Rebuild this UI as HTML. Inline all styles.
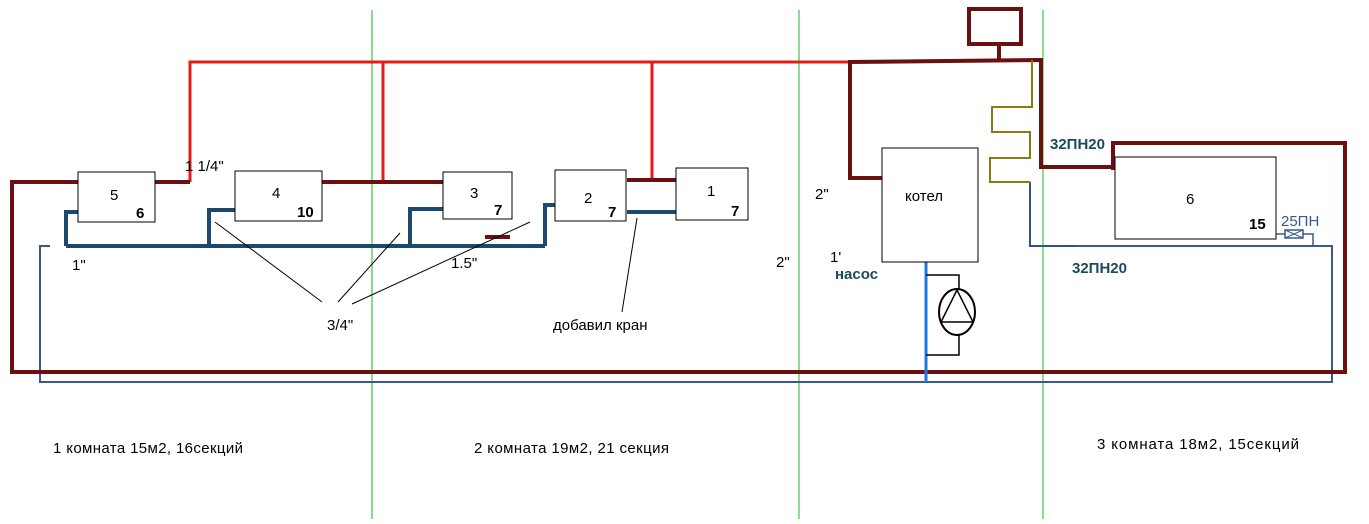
<!DOCTYPE html>
<html><head><meta charset="utf-8"><style>
body{margin:0;background:#fff}
svg text{font-family:"Liberation Sans",sans-serif}
</style></head><body>
<svg width="1369" height="519" xmlns="http://www.w3.org/2000/svg">
<rect width="1369" height="519" fill="#fff"/>
<g stroke="#3ec83e" stroke-width="1.2">
<line x1="372" y1="10" x2="372" y2="519"/>
<line x1="799" y1="10" x2="799" y2="519"/>
<line x1="1043" y1="10" x2="1043" y2="519"/>
</g>
<polyline points="50,246 40,246 40,382 1332,382 1332,246 1060,246" fill="none" stroke="#3b5a8a" stroke-width="2"/>
<polyline points="1030,182 1030,246 1075,246" fill="none" stroke="#2f4f8f" stroke-width="2"/>
<g stroke="#e51b1b" stroke-width="3" fill="none">
<polyline points="190,182 190,62 850,62"/>
<line x1="383" y1="62" x2="383" y2="182"/>
<line x1="652" y1="62" x2="652" y2="180"/>
</g>
<g stroke="#6b1010" stroke-width="4" fill="none">
<polyline points="78,182 12,182 12,372 1345,372 1345,143 1113,143 1113,170"/>
<line x1="155" y1="182" x2="190" y2="182"/>
<line x1="322" y1="182" x2="443" y2="182"/>
<line x1="627" y1="180" x2="676" y2="180"/>
<polyline points="882,178 850,178 850,62 1041,60 1041,167 1115,167"/>
<line x1="999" y1="45" x2="999" y2="60"/>
<rect x="969" y="9" width="52" height="35"/>
<line x1="485" y1="237" x2="510" y2="237"/>
</g>
<polyline points="1032,60 1032,107 992,107 992,132 1030,132 1030,158 990,158 990,182 1030,182" fill="none" stroke="#8a7a10" stroke-width="2"/>
<g stroke="#1b4a6e" stroke-width="4" fill="none">
<polyline points="66,246 545,246"/>
<polyline points="78,212 66,212 66,246"/>
<polyline points="235,210 209,210 209,246"/>
<polyline points="443,209 410,209 410,246"/>
<polyline points="555,205 545,205 545,246"/>
<line x1="627" y1="212" x2="676" y2="212"/>
</g>
<line x1="926" y1="262" x2="926" y2="382" stroke="#1e78e0" stroke-width="3"/>
<polyline points="926,275 959,275 959,290" fill="none" stroke="#000" stroke-width="1.5"/>
<polyline points="926,355 959,355 959,334" fill="none" stroke="#000" stroke-width="1.5"/>
<ellipse cx="957" cy="312" rx="18" ry="23" fill="#fff" stroke="#000" stroke-width="2"/>
<polygon points="957,290 941,322 973,322" fill="none" stroke="#000" stroke-width="1.5"/>
<rect x="1285" y="230" width="18" height="8" fill="#fff" stroke="#3b5a8a" stroke-width="1.5"/>
<line x1="1285" y1="230" x2="1303" y2="238" stroke="#3b5a8a"/><line x1="1285" y1="238" x2="1303" y2="230" stroke="#3b5a8a"/>
<polyline points="1276,234 1285,234" stroke="#3b5a8a" stroke-width="1.5"/>
<polyline points="1303,234 1313,234 1313,246" fill="none" stroke="#3b5a8a" stroke-width="1.5"/>
<g fill="#fff" stroke="#000" stroke-width="1">
<rect x="78" y="172" width="77" height="50"/>
<rect x="235" y="171" width="87" height="50"/>
<rect x="443" y="172" width="69" height="47"/>
<rect x="555" y="170" width="71" height="51"/>
<rect x="676" y="168" width="72" height="52"/>
<rect x="882" y="148" width="96" height="114"/>
<rect x="1115" y="157" width="161" height="82"/>
</g>
<g stroke="#000" stroke-width="1">
<line x1="215" y1="222" x2="322" y2="302"/>
<line x1="400" y1="233" x2="338" y2="302"/>
<line x1="530" y1="222" x2="352" y2="304"/>
<line x1="622" y1="312" x2="637" y2="218"/>
</g>
<g font-size="15" fill="#000">
<text x="110" y="200">5</text><text x="136" y="218" font-weight="bold">6</text>
<text x="272" y="198">4</text><text x="297" y="217" font-weight="bold">10</text>
<text x="470" y="198">3</text><text x="494" y="215" font-weight="bold">7</text>
<text x="584" y="203">2</text><text x="608" y="217" font-weight="bold">7</text>
<text x="707" y="196">1</text><text x="731" y="216" font-weight="bold">7</text>
<text x="905" y="201">котел</text>
<text x="1186" y="204">6</text><text x="1249" y="229" font-weight="bold">15</text>
<text x="1281" y="226" fill="#3b5a8a">25ПН</text>
<text x="185" y="171">1 1/4"</text>
<text x="72" y="270">1"</text>
<text x="451" y="268">1.5"</text>
<text x="327" y="330">3/4"</text>
<text x="553" y="330">добавил кран</text>
<text x="815" y="199">2"</text>
<text x="776" y="267">2"</text>
<text x="830" y="262">1'</text>
<text x="835" y="279" font-weight="bold" fill="#1b4a5a">насос</text>
<text x="1050" y="149" font-weight="bold" fill="#1b4a5a">32ПН20</text>
<text x="1072" y="273" font-weight="bold" fill="#1b4a5a">32ПН20</text>
<text x="53" y="453" textLength="190">1 комната 15м2, 16секций</text>
<text x="474" y="453" textLength="195">2 комната 19м2, 21 секция</text>
<text x="1097" y="449" textLength="202">3 комната 18м2, 15секций</text>
</g>
</svg>
</body></html>
